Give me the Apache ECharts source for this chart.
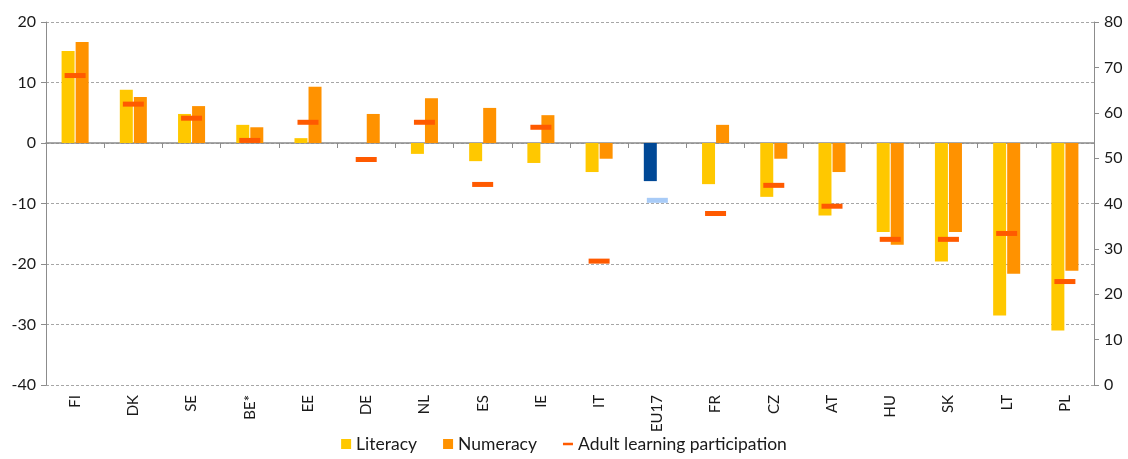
<!DOCTYPE html>
<html lang="en">
<head>
    <meta charset="UTF-8">
    <title>Literacy / numeracy vs adult learning</title>
    <style>
        html, body { margin: 0; padding: 0; background: #fff; }
        #main { width: 1128px; height: 459px; }
    </style>
</head>
<body>
<div id="main"></div>
<script src="https://cdn.jsdelivr.net/npm/echarts@6/dist/echarts.min.js"></script>
<script>
    const myChart = echarts.init(document.getElementById('main'));

    // categories
    const countries = ['FI','DK','SE','BE*','EE','DE','NL','ES','IE','IT','EU17','FR','CZ','AT','HU','SK','LT','PL'];

    // left axis (score difference)
    const literacy = [15.2, 8.8, 4.8, 3.0, 0.8, null, -1.8, -3.0, -3.3, -4.8, -6.3, -6.8, -8.9, -12.0, -14.7, -19.6, -28.5, -31.0];
    const numeracy = [16.7, 7.6, 6.1, 2.6, 9.3, 4.8, 7.4, 5.8, 4.6, -2.6, null, 3.0, -2.6, -4.8, -16.8, -14.7, -21.6, -21.1];

    // right axis (participation %)
    const adultLearning = [68.2, 61.9, 58.8, 53.9, 57.9, 49.7, 57.9, 44.2, 56.8, 27.3, 40.7, 37.8, 44.0, 39.4, 32.1, 32.1, 33.4, 22.8];

    const leftTicks = [-40, 20, 10];   // min, max, interval
    const rightTicks = [0, 80, 10];

    const euIndex = countries.indexOf('EU17');

    const font = 'Lato, "Open Sans", sans-serif';
    const textColor = '#1a1a1a';

    const litData = literacy.map((v, i) => i === euIndex
        ? { value: v, itemStyle: { color: '#004896' } } : v);
    const adultData = adultLearning.map((v, i) => i === euIndex
        ? { value: v, itemStyle: { color: '#a8cbf7' } } : v);

    const option = {
        animation: false,
        textStyle: { fontFamily: font },
        grid: { left: 46, right: 34, top: 22, bottom: 74 },
        legend: {
            bottom: 1,
            left: 'center',
            itemWidth: 10,
            itemHeight: 10,
            itemGap: 26,
            textStyle: { fontSize: 17.5, color: textColor, fontFamily: font },
            data: [
                { name: 'Literacy', icon: 'rect' },
                { name: 'Numeracy', icon: 'rect' },
                { name: 'Adult learning participation',
                  icon: 'path://M0,0L0.01,0L0.01,0.01L0,0.01ZM0,3.5L12,3.5L12,6.5L0,6.5ZM0,9.99L0.01,9.99L0.01,10L0,10Z' }
            ]
        },
        xAxis: [
            {
                type: 'category',
                data: countries,
                position: 'bottom',
                axisLine: { onZero: true, lineStyle: { color: '#8c8c8c', width: 1.5 } },
                axisTick: { show: true, length: 5, lineStyle: { color: '#8c8c8c' } },
                axisLabel: { show: false },
                splitLine: { show: false }
            },
            {
                type: 'category',
                data: countries,
                position: 'bottom',
                axisLine: { show: false, onZero: false },
                axisTick: { show: false },
                axisLabel: {
                    rotate: 90,
                    margin: 10,
                    fontSize: 15,
                    color: textColor,
                    fontFamily: font
                },
                splitLine: { show: false }
            }
        ],
        yAxis: [
            {
                type: 'value',
                min: leftTicks[0], max: leftTicks[1], interval: leftTicks[2],
                axisLine: { show: true, lineStyle: { color: '#8c8c8c' } },
                axisTick: { show: true, length: 5, lineStyle: { color: '#8c8c8c' } },
                axisLabel: { fontSize: 16, color: textColor, margin: 10, fontFamily: font },
                splitLine: { show: true, lineStyle: { color: '#a6a6a6', type: [3, 2] } }
            },
            {
                type: 'value',
                position: 'right',
                min: rightTicks[0], max: rightTicks[1], interval: rightTicks[2],
                axisLine: { show: true, lineStyle: { color: '#8c8c8c' } },
                axisTick: { show: true, length: 5, lineStyle: { color: '#8c8c8c' } },
                axisLabel: { fontSize: 16, color: textColor, margin: 10, fontFamily: font },
                splitLine: { show: false }
            }
        ],
        series: [
            {
                name: 'Literacy',
                type: 'bar',
                data: litData,
                barWidth: 13,
                barGap: '8%',
                itemStyle: { color: '#ffc800' },
                z: 2
            },
            {
                name: 'Numeracy',
                type: 'bar',
                data: numeracy,
                barWidth: 13,
                barGap: '8%',
                itemStyle: { color: '#ff9200' },
                z: 2
            },
            {
                name: 'Adult learning participation',
                type: 'scatter',
                yAxisIndex: 1,
                data: adultData,
                symbol: 'rect',
                symbolSize: [21, 5],
                itemStyle: { color: '#ff5a00', opacity: 1 },
                z: 5
            }
        ]
    };

    myChart.setOption(option);
</script>
</body>
</html>
